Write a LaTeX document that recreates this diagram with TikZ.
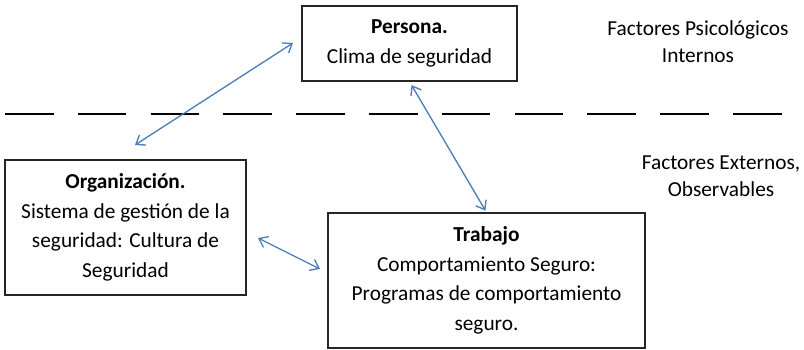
\documentclass[tikz,border=0pt]{standalone}
\usepackage{fontspec}
\setmainfont{Carlito}
\usetikzlibrary{arrows.meta}
\definecolor{arrowblue}{HTML}{4A7EBB}
\tikzset{
  box/.style={draw=black!85, line width=1pt, align=center, inner sep=0pt,
    font=\fontsize{16}{22.2}\selectfont},
  lbl/.style={align=center, inner sep=0pt, font=\fontsize{16}{20.3}\selectfont},
  link/.style={draw=arrowblue, line width=1pt,
    {Straight Barb[length=6pt,width=9pt]}-{Straight Barb[length=6pt,width=9pt]}},
  divider/.style={draw=black, line width=0.8pt, dash pattern=on 36.4pt off 18.2pt}
}
\begin{document}
\begin{tikzpicture}[x=0.75pt,y=-0.75pt]
\useasboundingbox (0,0) rectangle (804,350);
\draw[divider] (5,114) -- (783,114);
\node[box, minimum width=161.25pt, minimum height=56.25pt] (per) at (409.5,43.5)
  {\textbf{Persona.}\\Clima de seguridad};
\node[box, minimum width=180.75pt, minimum height=101.25pt] (org) at (125.5,227.5)
  {\textbf{Organización.}\\Sistema de gestión de la\\seguridad: Cultura de\\Seguridad};
\node[box, minimum width=237.75pt, minimum height=101.25pt] (trab) at (486.5,280.5)
  {\textbf{Trabajo}\\Comportamiento Seguro:\\Programas de comportamiento\\seguro.};
\node[lbl] (int) at (698,41.5) {Factores Psicológicos\\Internos};
\node[lbl] (ext) at (721,176.5) {Factores Externos,\\Observables};
\coordinate (a1s) at (135,145);
\coordinate (a1e) at (293,43);
\coordinate (a3s) at (258,238);
\coordinate (a3e) at (320,269);
\draw[link] (a1s) -- (a1e);
\draw[link, shorten <=3pt, shorten >=1.5pt] (per.south) -- (trab.north);
\draw[link] (a3s) -- (a3e);
\end{tikzpicture}
\end{document}
